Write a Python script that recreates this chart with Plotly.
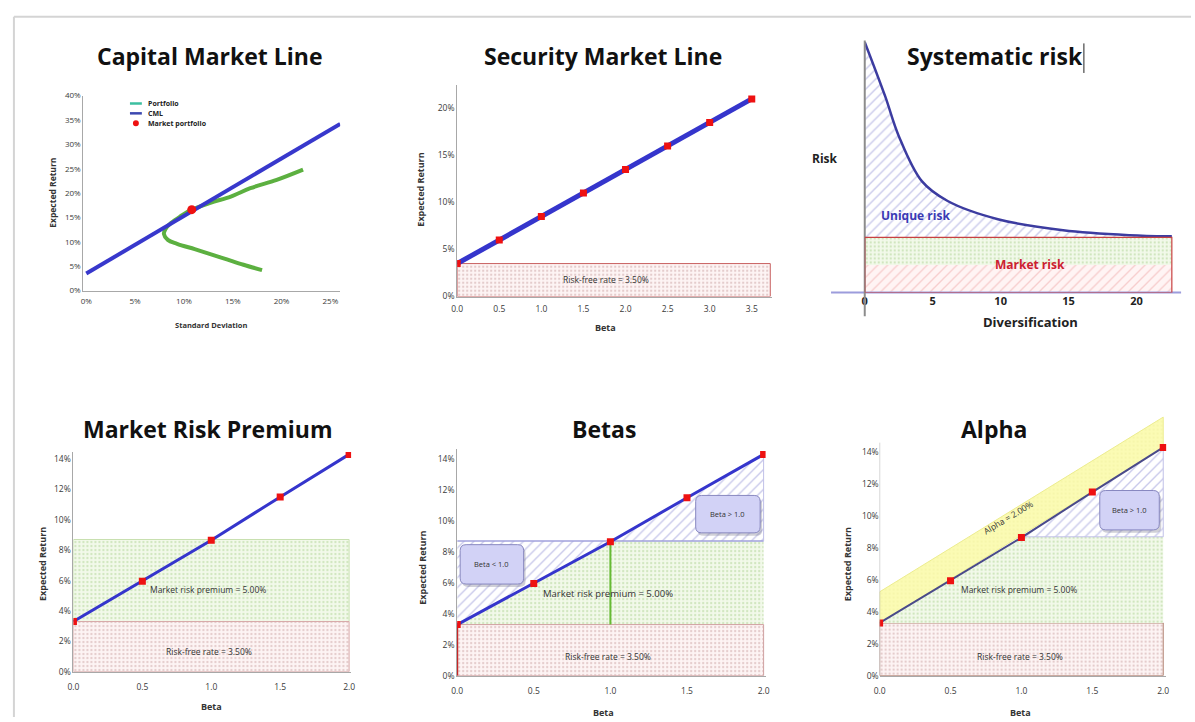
import plotly.graph_objects as go

W, H = 1195, 722
FONT = "'Open Sans', Lato, sans-serif"

# ---------------- data ----------------
# Capital Market Line (values in %)
cml_sd = [0.0, 26.0]
cml_ret = [3.5, 34.2]
portfolio_sd = [18.0, 16.1, 14.4, 12.7, 11.1, 9.3, 8.35, 7.95, 8.1, 8.7, 9.7, 10.7, 12.7, 14.8, 16.8, 19.5, 22.2]
portfolio_ret = [4.2, 5.3, 6.4, 7.5, 8.5, 9.6, 10.4, 11.6, 12.6, 13.9, 15.3, 16.5, 18.0, 19.3, 21.0, 22.7, 24.8]
market_sd = [10.8]
market_ret = [16.6]
legend_labels = ["Portfolio", "CML", "Market portfolio"]

# Security Market Line
sml_beta = [0.0, 0.5, 1.0, 1.5, 2.0, 2.5, 3.0, 3.5]
sml_ret = [3.5, 6.0, 8.5, 11.0, 13.5, 16.0, 18.5, 21.0]
sml_rf = 3.5
sml_beta_end = 3.72

# Systematic risk
diversification = [0.0, 1.5, 2.5, 4.2, 6.1, 9.8, 14.6, 19.5, 22.3, 22.6]
total_risk = [4.54, 3.56, 2.84, 2.02, 1.66, 1.33, 1.13, 1.04, 1.02, 1.02]
market_risk = 1.0
market_risk_split = 0.5
div_ticks = [0, 5, 10, 15, 20]

# Market risk premium / Betas / Alpha
beta = [0.0, 0.5, 1.0, 1.5, 2.0]
exp_ret = [3.3, 5.95, 8.65, 11.5, 14.3]
rf_rate = 3.3
market_level = 8.7
beta_ends = [0.0, 2.0]
alpha_upper = [5.25, 16.2]

pct_ticks_cml_x = [0, 5, 10, 15, 20, 25]
pct_ticks_cml_y = [0, 5, 10, 15, 20, 25, 30, 35, 40]
pct_ticks_sml = [0, 5, 10, 15, 20]
pct_ticks_bottom = [0, 2, 4, 6, 8, 10, 12, 14]

# ---------------- helpers ----------------
def px(p):
    return p / W

def py(p):
    return 1 - p / H

def pct(vals):
    return [f"{v}%" for v in vals]

BLUE = "#3535cc"
RED = "#ee1111"

def dots(fg, bg):
    return dict(shape=".", fgcolor=fg, bgcolor=bg, size=4, solidity=0.25)

def hatch(fg, bg="white"):
    return dict(shape="/", fgcolor=fg, bgcolor=bg, size=7, solidity=0.2)

PINK_DOTS = dots("#c9a0a0", "#fdf4f4")
GREEN_DOTS = dots("#a9d08e", "#f2f9ea")
BLUE_HATCH = hatch("#9494d8")
PINK_HATCH = hatch("#f0a8a8", "#fff4f4")

fig = go.Figure()

def poly(xs, ys, ax, pattern, fillcolor, linecolor="rgba(0,0,0,0)", lw=1):
    fig.add_trace(go.Scatter(
        x=xs, y=ys, mode="lines", fill="toself", fillcolor=fillcolor,
        fillpattern=pattern, line=dict(color=linecolor, width=lw),
        xaxis="x" + ax, yaxis="y" + ax, showlegend=False, hoverinfo="skip"))

def line(xs, ys, ax, color, width, mode="lines", marker=None, shape="linear"):
    fig.add_trace(go.Scatter(
        x=xs, y=ys, mode=mode, line=dict(color=color, width=width, shape=shape),
        marker=marker, showlegend=False,
        xaxis="x" + ax, yaxis="y" + ax, hoverinfo="skip"))

SQ = dict(symbol="square", size=7, color=RED)

# ---------- Panel 1: CML ----------
line(portfolio_sd, portfolio_ret, "", "#5cb040", 4, shape="spline")
line(cml_sd, cml_ret, "", "#3838cc", 4)
line(market_sd, market_ret, "", RED, 1, mode="markers",
     marker=dict(symbol="circle", size=9, color=RED))

# ---------- Panel 2: SML ----------
poly([0, sml_beta_end, sml_beta_end, 0, 0], [0, 0, sml_rf, sml_rf, 0], "2",
     PINK_DOTS, "#fdf4f4", "#c86060", 1)
line(sml_beta, sml_ret, "2", BLUE, 5, mode="lines+markers", marker=SQ)

# ---------- Panel 3: Systematic risk ----------
mr_end = diversification[-1]
poly([0, mr_end, mr_end, 0, 0],
     [market_risk_split, market_risk_split, market_risk, market_risk, market_risk_split],
     "3", GREEN_DOTS, "#f2f9ea")
poly([0, mr_end, mr_end, 0, 0], [0, 0, market_risk_split, market_risk_split, 0],
     "3", PINK_HATCH, "#fff4f4")
fig.add_trace(go.Scatter(x=diversification, y=[market_risk] * len(diversification),
                         mode="lines", line=dict(width=0, color="rgba(0,0,0,0)"),
                         xaxis="x3", yaxis="y3", showlegend=False, hoverinfo="skip"))
fig.add_trace(go.Scatter(x=diversification, y=total_risk, mode="lines",
                         line=dict(color="#3c3ca0", width=2.5, shape="spline"),
                         fill="tonexty", fillcolor="white", fillpattern=BLUE_HATCH,
                         xaxis="x3", yaxis="y3", showlegend=False, hoverinfo="skip"))

# ---------- Panel 4: Market Risk Premium ----------
b0, b1 = beta_ends
poly([b0, b1, b1, b0, b0], [rf_rate, rf_rate, market_level, market_level, rf_rate], "4",
     GREEN_DOTS, "#f2f9ea", "#c8e0b0", 1)
poly([b0, b1, b1, b0, b0], [0, 0, rf_rate, rf_rate, 0], "4",
     PINK_DOTS, "#fdf4f4", "#d8a8a8", 1)
line(beta, exp_ret, "4", BLUE, 3, mode="lines+markers", marker=SQ)

# ---------- Panel 5: Betas ----------
poly([b0, b1, b1, b0, b0], [rf_rate, rf_rate, market_level, market_level, rf_rate], "5",
     GREEN_DOTS, "#f2f9ea")
poly([b0, b1, b1, b0, b0], [0, 0, rf_rate, rf_rate, 0], "5",
     PINK_DOTS, "#fdf4f4", "#d0a0a0", 1)
poly([b0, b0, beta[2], b0], [exp_ret[0], market_level, market_level, exp_ret[0]], "5",
     BLUE_HATCH, "white")
poly([beta[2], b1, b1, beta[2]], [market_level, exp_ret[-1], market_level, market_level], "5",
     BLUE_HATCH, "white")
line([b0, b1], [market_level, market_level], "5", "#a0a0dc", 1.5)
line([b1, b1], [market_level, exp_ret[-1]], "5", "#c0c0e8", 1)
line([beta[2], beta[2]], [rf_rate, market_level], "5", "#66bb33", 2)
line([b0, b0], [0, rf_rate], "5", "#c00000", 2)
line(beta, exp_ret, "5", BLUE, 3, mode="lines+markers", marker=SQ)

# ---------- Panel 6: Alpha ----------
poly([b0, b1, b1, b0, b0], [0, 0, rf_rate, rf_rate, 0], "6",
     PINK_DOTS, "#fdf4f4", "#b08070", 1)
poly([b0, beta[2], b1, b1, b0], [exp_ret[0], market_level, market_level, rf_rate, rf_rate], "6",
     GREEN_DOTS, "#f2f9ea")
poly([beta[2], b1, b1, beta[2]], [market_level, exp_ret[-1], market_level, market_level], "6",
     BLUE_HATCH, "white", "#c0c0e8", 1)
poly([b0, b1, b1, b0, b0], [exp_ret[0], exp_ret[-1], alpha_upper[1], alpha_upper[0], exp_ret[0]], "6",
     dots("#f0f0a0", "#fbfbb4"), "#fbfbb4", "#ecec90", 1)
line(beta, exp_ret, "6", "#4a4a8a", 2, mode="lines+markers", marker=SQ)

# ---------------- axes ----------------
TICKFONT = dict(family=FONT, size=8.5, color="#3a3a3a")
AX = dict(showgrid=False, zeroline=False, showline=True, linecolor="#a8a8a8",
          linewidth=1, ticks="", tickfont=TICKFONT, fixedrange=True, tickmode="array")
# invisible ticks used only to push the x tick labels down a little
XPUSH = dict(ticks="outside", ticklen=7, tickcolor="rgba(0,0,0,0)")

layout = dict(
    width=W, height=H, margin=dict(l=0, r=0, t=0, b=0),
    paper_bgcolor="white", plot_bgcolor="rgba(0,0,0,0)",
    font=dict(family=FONT, color="#222"),
    showlegend=False,
)

# panel 1
layout["xaxis"] = dict(AX, domain=[px(78), px(337)], range=[-0.3, 26.0], anchor="y",
                       tickvals=pct_ticks_cml_x, ticktext=pct(pct_ticks_cml_x),
                       tickfont=dict(TICKFONT, size=8), ticks="outside", ticklen=3,
                       tickcolor="rgba(0,0,0,0)")
layout["yaxis"] = dict(AX, domain=[py(289), py(91)], range=[0, 40], anchor="x",
                       tickvals=pct_ticks_cml_y, ticktext=pct(pct_ticks_cml_y),
                       tickfont=dict(TICKFONT, size=8))
# panel 2
layout["xaxis2"] = dict(AX, domain=[px(455), px(772)], range=[0, 3.735], anchor="y2",
                        tickvals=sml_beta, ticktext=[f"{b:.1f}" for b in sml_beta],
                        ticks="outside", ticklen=4, tickcolor="rgba(0,0,0,0)")
layout["yaxis2"] = dict(AX, domain=[py(295), py(80)], range=[0, 22.5], anchor="x2",
                        tickvals=pct_ticks_sml, ticktext=pct(pct_ticks_sml))
# panel 3
layout["xaxis3"] = dict(AX, domain=[px(866), px(1185)], range=[0, 23.28], anchor="y3",
                        showline=False, tickvals=div_ticks, ticktext=[str(v) for v in div_ticks],
                        tickfont=dict(family=FONT, size=11, color="#222", weight="bold"))
layout["yaxis3"] = dict(AX, domain=[py(291), py(35)], range=[0, 4.57], anchor="x3",
                        showline=False, showticklabels=False)
# panel 4
layout["xaxis4"] = dict(AX, **XPUSH, domain=[px(68), px(348)], range=[0, 2.0144], anchor="y4",
                        tickvals=beta, ticktext=[f"{b:.1f}" for b in beta])
layout["yaxis4"] = dict(AX, domain=[py(676), py(453)], range=[0, 14.45], anchor="x4",
                        tickvals=pct_ticks_bottom, ticktext=pct(pct_ticks_bottom))
# panel 5
layout["xaxis5"] = dict(AX, **XPUSH, domain=[px(455), px(766)], range=[0, 2.013], anchor="y5",
                        tickvals=beta, ticktext=[f"{b:.1f}" for b in beta])
layout["yaxis5"] = dict(AX, domain=[py(680), py(450)], range=[0, 14.64], anchor="x5",
                        tickvals=pct_ticks_bottom, ticktext=pct(pct_ticks_bottom))
# panel 6
layout["xaxis6"] = dict(AX, **XPUSH, domain=[px(881), px(1170)], range=[0, 2.021], anchor="y6",
                        tickvals=beta, ticktext=[f"{b:.1f}" for b in beta])
layout["yaxis6"] = dict(AX, domain=[py(680), py(416)], range=[0, 16.29], anchor="x6",
                        showline=False, tickvals=pct_ticks_bottom, ticktext=pct(pct_ticks_bottom))

fig.update_layout(**layout)

# ---------------- shapes ----------------
shapes = []
# frame
shapes.append(dict(type="line", xref="paper", yref="paper", x0=px(8), x1=1, y0=py(11), y1=py(11),
                   line=dict(color="#d4d4d4", width=2)))
shapes.append(dict(type="line", xref="paper", yref="paper", x0=px(8), x1=px(8), y0=py(11), y1=0,
                   line=dict(color="#d4d4d4", width=2)))
# systematic risk axes
shapes.append(dict(type="line", xref="paper", yref="paper", x0=px(832), x1=px(1185), y0=py(291), y1=py(291),
                   line=dict(color="#9c9cdc", width=2)))
shapes.append(dict(type="line", xref="paper", yref="paper", x0=px(866), x1=px(866), y0=py(35), y1=py(315),
                   line=dict(color="#8c8c8c", width=2)))
# market-risk box border
shapes.append(dict(type="rect", xref="x3", yref="y3", x0=0, x1=mr_end, y0=0, y1=market_risk,
                   line=dict(color="#c84040", width=1.2)))
# text cursor after title
shapes.append(dict(type="line", xref="paper", yref="paper", x0=px(1087), x1=px(1087), y0=py(38), y1=py(68),
                   line=dict(color="#222", width=1)))
# alpha panel y-axis line
shapes.append(dict(type="line", xref="x6", yref="y6", x0=0, x1=0, y0=0, y1=14.6,
                   line=dict(color="#a8a8a8", width=1)))

# CML legend (drawn by hand to keep its tight row spacing)
legend_rows = [99, 109, 119]
shapes.append(dict(type="line", xref="paper", yref="paper", x0=px(125), x1=px(137),
                   y0=py(legend_rows[0]), y1=py(legend_rows[0]), line=dict(color="#3cbfa0", width=2.5)))
shapes.append(dict(type="line", xref="paper", yref="paper", x0=px(125), x1=px(137),
                   y0=py(legend_rows[1]), y1=py(legend_rows[1]), line=dict(color="#3c48b0", width=2.5)))
shapes.append(dict(type="circle", xref="paper", yref="paper", x0=px(128), x1=px(134),
                   y0=py(legend_rows[2] - 3), y1=py(legend_rows[2] + 3), fillcolor=RED,
                   line=dict(color=RED, width=0)))


def rrect(cx, cy, w, h, r, dx=0, dy=0):
    x0, x1 = cx - w / 2 + dx, cx + w / 2 + dx
    y0, y1 = cy - h / 2 + dy, cy + h / 2 + dy
    pts = [
        ("M", (x0 + r, y0)), ("L", (x1 - r, y0)), ("Q", (x1, y0), (x1, y0 + r)),
        ("L", (x1, y1 - r)), ("Q", (x1, y1), (x1 - r, y1)), ("L", (x0 + r, y1)),
        ("Q", (x0, y1), (x0, y1 - r)), ("L", (x0, y0 + r)), ("Q", (x0, y0), (x0 + r, y0)),
    ]
    s = ""
    for p in pts:
        cmd = p[0]
        coords = " ".join(f"{px(a):.5f},{py(b):.5f}" for a, b in p[1:])
        s += f"{cmd} {coords} "
    return s + "Z"


beta_boxes = [(490, 567, 64, 40, "Beta < 1.0"), (728, 516, 65, 38, "Beta > 1.0"),
              (1133, 512, 60, 40, "Beta > 1.0")]
for cx, cy, w, h, _ in beta_boxes:
    shapes.append(dict(type="path", xref="paper", yref="paper", path=rrect(cx, cy, w, h, 6, 2, 3),
                       fillcolor="rgba(120,120,140,0.35)", line=dict(width=0)))
    shapes.append(dict(type="path", xref="paper", yref="paper", path=rrect(cx, cy, w, h, 6),
                       fillcolor="#d2d2f6", line=dict(color="#8888c0", width=1)))

fig.update_layout(shapes=shapes)

# ---------------- annotations ----------------
ann = []

def text(x, y, s, size=9, color="#333", bold=False, angle=0, anchor="center", family=FONT):
    ann.append(dict(x=px(x), y=py(y), xref="paper", yref="paper", text=s, showarrow=False,
                    xanchor=anchor, yanchor="middle", textangle=angle,
                    font=dict(family=family, size=size, color=color,
                              weight="bold" if bold else "normal")))

# titles
for x, y, s in [(206, 51, "Capital Market Line"), (602, 51, "Security Market Line"),
                (997, 51, "Systematic risk"), (204, 430, "Market Risk Premium"),
                (603, 430, "Betas"), (996, 430, "Alpha")]:
    text(x, y, s, size=23, color="#111", bold=True)

# legend texts
for row, label in zip(legend_rows, legend_labels):
    text(141, row, label, size=7, bold=True, color="#222", anchor="left")

# axis titles
text(46, 190, "Expected Return", size=8.5, bold=True, angle=-90)
text(207, 324, "Standard Deviation", size=7.5, bold=True)
text(418, 187, "Expected Return", size=9, bold=True, angle=-90)
text(605, 326, "Beta", size=9, bold=True)
text(826, 155, "Risk", size=12, bold=True, color="#222")
text(1033, 321, "Diversification", size=13, bold=True, color="#222")
text(37, 567, "Expected Return", size=9, bold=True, angle=-90)
text(207, 711, "Beta", size=9, bold=True)
text(420, 570, "Expected Return", size=9, bold=True, angle=-90)
text(603, 717, "Beta", size=9, bold=True)
text(848, 567, "Expected Return", size=9, bold=True, angle=-90)
text(1023, 717, "Beta", size=9, bold=True)

# in-chart labels
text(605, 278, "Risk-free rate = 3.50%", size=8.5)
text(917, 213, "Unique risk", size=12, bold=True, color="#3a3ab4")
text(1033, 262, "Market risk", size=12, bold=True, color="#cc2030")
text(204, 593, "Market risk premium = 5.00%", size=8.5)
text(205, 655, "Risk-free rate = 3.50%", size=8.5)
text(607, 597, "Market risk premium = 5.00%", size=9.5)
text(607, 661, "Risk-free rate = 3.50%", size=8.5)
text(1022, 593, "Market risk premium = 5.00%", size=8.5)
text(1023, 661, "Risk-free rate = 3.50%", size=8.5)
text(1010, 519, "Alpha = 2.00%", size=8.5, angle=-31)
for cx, cy, w, h, s in beta_boxes:
    text(cx, cy, s, size=7.5)

fig.update_layout(annotations=ann)

fig.write_html("out.html",
               config={"displayModeBar": False},
               post_script="document.body.style.margin='0';"
                           "document.documentElement.style.overflow='hidden';")
